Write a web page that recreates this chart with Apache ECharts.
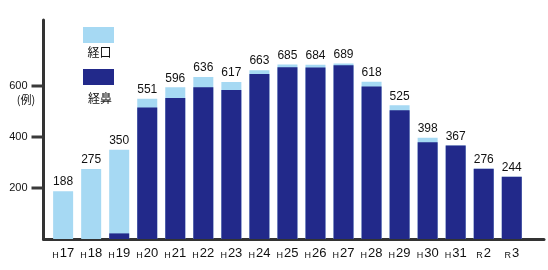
<!DOCTYPE html>
<html><head><meta charset="utf-8">
<script src="https://cdn.jsdelivr.net/npm/echarts@6/dist/echarts.min.js"></script>
<style>html,body{margin:0;padding:0;background:#fff}#c{width:548px;height:270px}</style>
</head><body><div id="c"></div>
<script>
const categories = ['H17','H18','H19','H20','H21','H22','H23','H24','H25','H26','H27','H28','H29','H30','H31','R2','R3'];
const oral  = [188,275,328, 35, 42, 40, 32, 15, 11, 11,  7, 19, 19, 18,  0,  0,  0];
const nasal = [  0,  0, 22,516,554,596,585,648,674,673,682,599,506,380,367,276,244];
const yTickValues = [200,400,600];
const unitLabel = '(例)';
const seriesNames = ['経口','経鼻'];

const totals = oral.map((v,i)=>v+nasal[i]);
const idx = categories.map((c,i)=>i);
const NUM_FONT = '"Liberation Sans", Arial, Helvetica, sans-serif';
const CJK_FONT = '"Noto Sans CJK JP", sans-serif';
const LIGHT = '#a6d9f3';
const DARK = '#22298a';
const AXIS = '#333333';
const TICK_COLOR = 'rgb(58,58,58)';
const GRID = {left: 43.5, right: 4, top: 20, bottom: 31};
const X_MIN = -0.7, X_MAX = 17.15, TICK_PX = 12;

const chart = echarts.init(document.getElementById('c'), null, {renderer:'canvas'});
const option = {
  animation: false,
  grid: GRID,
  legend: [
    {data:[seriesNames[0]], left:83, top:27, padding:0, itemWidth:31, itemHeight:16, icon:'rect', selectedMode:false, formatter:()=>'', textStyle:{fontSize:1}},
    {data:[seriesNames[1]], left:83, top:69, padding:0, itemWidth:31, itemHeight:16, icon:'rect', selectedMode:false, formatter:()=>'', textStyle:{fontSize:1}}
  ],
  xAxis: {
    type:'value', min:X_MIN, max:X_MAX,
    axisLine:{show:true, onZero:false, lineStyle:{color:AXIS, width:3}},
    axisTick:{show:false}, splitLine:{show:false},
    axisLabel:{
      customValues: idx,
      margin: 8,
      formatter: v => { const c = categories[Math.round(v)]; return '{h|'+c.charAt(0)+'}{n|'+c.slice(1)+'}'; },
      rich:{
        h:{fontSize:9, fontFamily:NUM_FONT, color:'#111', verticalAlign:'bottom', padding:[0,1,0,0]},
        n:{fontSize:13, fontFamily:NUM_FONT, color:'#111', verticalAlign:'bottom', letterSpacing:-0.8}
      }
    }
  },
  yAxis: {
    type:'value', min:0, max:860,
    axisLine:{show:true, onZero:false, lineStyle:{color:AXIS, width:3}},
    axisTick:{show:false},
    axisLabel:{customValues: yTickValues, margin:16, fontSize:11, fontFamily:NUM_FONT, color:'#111'},
    splitLine:{show:false}
  },
  series: [
    {name:seriesNames[0], type:'bar', barWidth:20, barGap:'-100%', itemStyle:{color:LIGHT},
     data: totals.map((v,i)=>[i,v]),
     label:{show:true, position:'top', distance:3, fontSize:12, fontFamily:NUM_FONT, color:'#111'}},
    {name:seriesNames[1], type:'bar', barWidth:20, barGap:'-100%', itemStyle:{color:DARK},
     data: nasal.map((v,i)=>[i,v])}
  ]
};
chart.setOption(option);
const y600 = chart.convertToPixel({yAxisIndex:0}, yTickValues[2]);
const els = [
  {type:'text', x:26, y:y600+14, style:{text:unitLabel, align:'center', verticalAlign:'middle', fontSize:11, fontFamily:CJK_FONT, fill:'#111'}},
  {type:'text', x:99.5, y:52, style:{text:seriesNames[0], align:'center', verticalAlign:'middle', fontSize:12, fontFamily:CJK_FONT, fill:'#111'}},
  {type:'text', x:100, y:98, style:{text:seriesNames[1], align:'center', verticalAlign:'middle', fontSize:12, fontFamily:CJK_FONT, fill:'#111'}}
];
yTickValues.forEach(v => {
  const y = Math.round(chart.convertToPixel({yAxisIndex:0}, v)) - 1.5;
  els.push({type:'rect', z:50, shape:{x:GRID.left - TICK_PX, y:y, width:TICK_PX, height:3}, style:{fill:TICK_COLOR}});
});
chart.setOption({graphic: els});
</script></body></html>
